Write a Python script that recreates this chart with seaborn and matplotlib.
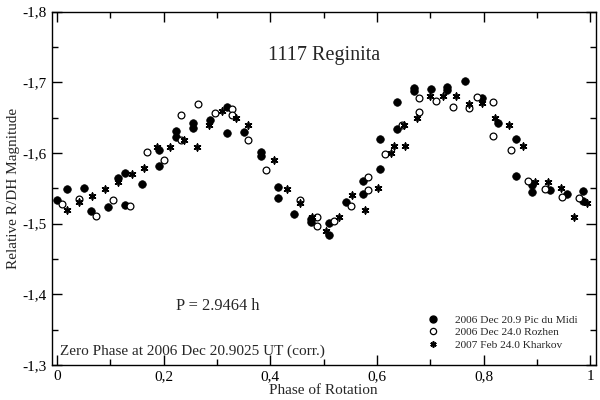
import numpy as np
import pandas as pd
import seaborn as sns
import matplotlib.pyplot as plt
from matplotlib.lines import Line2D

# 2006 Dec 20.9 Pic du Midi (filled circles)
pic_phase = [0.000, 0.018, 0.050, 0.064, 0.095, 0.114, 0.127, 0.127, 0.159, 0.191,
             0.191, 0.223, 0.223, 0.255, 0.255, 0.286, 0.318, 0.318, 0.350, 0.383,
             0.383, 0.414, 0.414, 0.445, 0.477, 0.477, 0.510, 0.510, 0.542, 0.573,
             0.573, 0.605, 0.605, 0.637, 0.637, 0.669, 0.669, 0.701, 0.732, 0.732,
             0.764, 0.796, 0.827, 0.860, 0.860, 0.891, 0.891, 0.924, 0.956, 0.986,
             0.986]
pic_mag = [-1.534, -1.549, -1.550, -1.518, -1.523, -1.564, -1.571, -1.526, -1.556, -1.582,
           -1.604, -1.631, -1.622, -1.642, -1.636, -1.646, -1.665, -1.628, -1.629, -1.601,
           -1.595, -1.552, -1.536, -1.513, -1.506, -1.502, -1.501, -1.484, -1.530, -1.542,
           -1.560, -1.577, -1.620, -1.634, -1.672, -1.692, -1.687, -1.691, -1.694, -1.689,
           -1.702, -1.678, -1.643, -1.620, -1.568, -1.554, -1.545, -1.548, -1.542, -1.546,
           -1.532]

# 2006 Dec 24.0 Rozhen (open circles)
roz_phase = [0.009, 0.041, 0.073, 0.105, 0.137, 0.169, 0.200, 0.232, 0.233, 0.265,
             0.296, 0.329, 0.328, 0.359, 0.391, 0.455, 0.488, 0.488, 0.519, 0.551,
             0.583, 0.583, 0.614, 0.647, 0.679, 0.679, 0.710, 0.742, 0.773, 0.788,
             0.818, 0.818, 0.851, 0.883, 0.914, 0.946, 0.978]
roz_mag = [-1.528, -1.535, -1.511, -1.534, -1.525, -1.601, -1.590, -1.653, -1.619, -1.669,
           -1.657, -1.662, -1.653, -1.618, -1.576, -1.534, -1.509, -1.497, -1.504, -1.525,
           -1.547, -1.566, -1.599, -1.639, -1.658, -1.678, -1.674, -1.665, -1.664, -1.679,
           -1.672, -1.624, -1.604, -1.561, -1.549, -1.537, -1.536]

# 2007 Feb 24.0 Kharkov (asterisks)
kha_phase = [0.018, 0.042, 0.066, 0.091, 0.115, 0.140, 0.164, 0.188, 0.212, 0.238,
             0.262, 0.285, 0.310, 0.335, 0.358, 0.407, 0.431, 0.456, 0.479, 0.504,
             0.529, 0.553, 0.577, 0.602, 0.626, 0.632, 0.652, 0.650, 0.675, 0.699,
             0.724, 0.748, 0.773, 0.796, 0.821, 0.847, 0.873, 0.896, 0.920, 0.945,
             0.969, 0.993]
kha_mag = [-1.520, -1.530, -1.539, -1.549, -1.559, -1.570, -1.579, -1.609, -1.609, -1.619,
           -1.609, -1.639, -1.660, -1.650, -1.639, -1.590, -1.549, -1.529, -1.510, -1.489,
           -1.509, -1.540, -1.519, -1.550, -1.600, -1.610, -1.610, -1.640, -1.650, -1.680,
           -1.681, -1.680, -1.669, -1.670, -1.650, -1.640, -1.610, -1.559, -1.559, -1.550,
           -1.510, -1.529]

series_labels = ['2006 Dec 20.9 Pic du Midi', '2006 Dec 24.0 Rozhen', '2007 Feb 24.0 Kharkov']

x_ticks = [0, 0.2, 0.4, 0.6, 0.8, 1.0]
x_tick_labels = ['0', '0,2', '0,4', '0,6', '0,8', '1']
y_ticks = [-1.8, -1.7, -1.6, -1.5, -1.4, -1.3]
y_tick_labels = ['-1,8', '-1,7', '-1,6', '-1,5', '-1,4', '-1,3']

pic = pd.DataFrame({'phase': pic_phase, 'mag': pic_mag})
roz = pd.DataFrame({'phase': roz_phase, 'mag': roz_mag})
kha = pd.DataFrame({'phase': kha_phase, 'mag': kha_mag})

sns.set_style('ticks')
plt.rcParams['font.family'] = ['Liberation Serif', 'DejaVu Serif']

fig, ax = plt.subplots(figsize=(6, 4), dpi=100)
fig.subplots_adjust(left=0.086, right=0.993, top=0.971, bottom=0.0875)

sns.scatterplot(data=pic, x='phase', y='mag', ax=ax, marker='o', s=30,
                color='black', edgecolor='black', linewidth=0.5)
sns.scatterplot(data=roz, x='phase', y='mag', ax=ax, marker='o', s=24,
                facecolor='white', edgecolor='black', linewidth=0.9)
sns.scatterplot(data=kha, x='phase', y='mag', ax=ax, marker=(6, 2, 0), s=22,
                color='black', edgecolor='black', linewidth=1.2)

ax.set_xlim(-0.01, 1.01)
ax.set_ylim(-1.3, -1.8)
ax.set_xticks(x_ticks)
ax.set_xticklabels(x_tick_labels)
ax.set_yticks(y_ticks)
ax.set_yticklabels(y_tick_labels)
ax.set_xticks(np.arange(0.1, 1.0, 0.2), minor=True)
ax.set_yticks(np.arange(-1.75, -1.3, 0.1), minor=True)
ax.tick_params(which='both', direction='in', top=True, right=True, labelsize=11,
               color='black', labelcolor='black', width=1)
ax.tick_params(which='major', length=7)
ax.tick_params(which='minor', length=4)
for sp in ax.spines.values():
    sp.set_color('black')
    sp.set_linewidth(1)

ax.set_xlabel('Phase of Rotation', fontsize=11, labelpad=1)
ax.set_ylabel('Relative R/DH Magnitude', fontsize=11, labelpad=2)

ax.text(0.5, 0.875, '1117 Reginita', transform=ax.transAxes, fontsize=14.5,
        ha='center', va='center')
ax.text(0.306, 0.168, 'P = 2.9464 h', transform=ax.transAxes, fontsize=11.8,
        ha='center', va='center')
ax.text(0.015, 0.04, 'Zero Phase at 2006 Dec 20.9025 UT (corr.)', transform=ax.transAxes,
        fontsize=11, ha='left', va='center')

handles = [
    Line2D([], [], linestyle='none', marker='o', markersize=5, color='black'),
    Line2D([], [], linestyle='none', marker='o', markersize=4.5, markerfacecolor='white',
           markeredgecolor='black', markeredgewidth=0.9),
    Line2D([], [], linestyle='none', marker=(6, 2, 0), markersize=4.5, color='black',
           markeredgewidth=1.2),
]
ax.legend(handles, series_labels, loc='upper left', bbox_to_anchor=(0.676, 0.155),
          frameon=False, fontsize=8.2, handletextpad=1.2, labelspacing=0.22,
          borderaxespad=0, handlelength=1.5)

fig.savefig('out.png', dpi=100)
